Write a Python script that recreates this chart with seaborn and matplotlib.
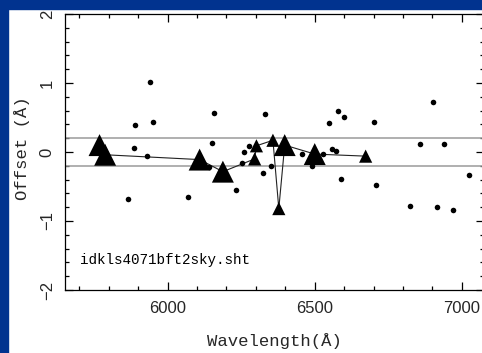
import matplotlib
matplotlib.use("Agg")
import matplotlib.pyplot as plt
from matplotlib.patches import Rectangle
from matplotlib.ticker import MultipleLocator
import seaborn as sns

# single lines (dots)
dot_x = [5865, 5887, 5891, 5929, 5941, 5950, 6071, 6141, 6150, 6157,
         6232, 6254, 6260, 6277, 6324, 6330, 6351, 6457, 6492, 6527,
         6547, 6557, 6572, 6578, 6588, 6598, 6701, 6709, 6822, 6856,
         6903, 6915, 6940, 6969, 7023]
dot_y = [-0.68, 0.06, 0.39, -0.06, 1.01, 0.43, -0.65, -0.22, 0.13, 0.56,
         -0.55, -0.16, 0.0, 0.09, -0.31, 0.55, -0.21, -0.03, -0.21, -0.03,
         0.42, 0.05, 0.02, 0.59, -0.39, 0.51, 0.44, -0.48, -0.78, 0.12,
         0.72, -0.79, 0.12, -0.84, -0.34]

# binned offsets (triangles), weight -> marker size
tri_x = [5769, 5788, 6109, 6188, 6296, 6302, 6358, 6378, 6398, 6500, 6673]
tri_y = [0.10, -0.04, -0.11, -0.285, -0.10, 0.09, 0.17, -0.82, 0.10, -0.03, -0.06]
tri_w = [2, 2, 2, 2, 1, 1, 1, 1, 2, 2, 1]

limite = 0.2
nome_arquivo = "idkls4071bft2sky.sht"

sns.set_style("ticks")
plt.rcParams["font.family"] = ["Liberation Sans", "DejaVu Sans"]

fig = plt.figure(figsize=(4.82, 3.53), dpi=100)
fig.patch.set_facecolor("white")
ax = fig.add_axes([64.5 / 482, 63 / 353, 419.5 / 482, 276 / 353])

# borda azul do slide
azul = "#01338f"
fig.patches.append(Rectangle((0, 0), 8 / 482, 1, transform=fig.transFigure, color=azul, zorder=0))
fig.patches.append(Rectangle((0, 1 - 9 / 353), 1, 9 / 353, transform=fig.transFigure, color=azul, zorder=0))

ax.axhline(limite, color="#9a9a9a", lw=1.1, zorder=1)
ax.axhline(-limite, color="#9a9a9a", lw=1.1, zorder=1)

sns.scatterplot(x=dot_x, y=dot_y, ax=ax, color="black", s=16, linewidth=0, zorder=3)
sns.lineplot(x=tri_x, y=tri_y, ax=ax, sort=False, estimator=None, color="#222222", lw=0.8, zorder=2)
sns.scatterplot(x=tri_x, y=tri_y, ax=ax, size=tri_w, sizes={1: 90, 2: 250}, marker="^",
                color="black", linewidth=0, legend=False, zorder=4)

ax.set_xlim(5650, 7075)
ax.set_ylim(-2, 2)
ax.xaxis.set_major_locator(MultipleLocator(500))
ax.xaxis.set_minor_locator(MultipleLocator(100))
ax.yaxis.set_major_locator(MultipleLocator(1))
ax.yaxis.set_minor_locator(MultipleLocator(0.2))
ax.tick_params(which="both", direction="in", top=True, right=True, width=0.9, color="black")
ax.tick_params(which="major", length=6)
ax.tick_params(which="minor", length=3)
ax.tick_params(axis="x", labelsize=12, pad=8)
ax.tick_params(axis="y", labelsize=12, pad=7, labelrotation=90)
for t in ax.get_yticklabels():
    t.set_va("center")
for s in ax.spines.values():
    s.set_linewidth(0.9)
    s.set_color("black")

mono = ["Liberation Mono", "DejaVu Sans Mono"]
ax.set_xlabel("Wavelength(Å)", fontsize=12.4, family=mono)
ax.set_ylabel("Offset (Å)", fontsize=12.4, family=mono)
ax.xaxis.label.set_va("center")
ax.yaxis.label.set_va("center")
ax.xaxis.set_label_coords(0.5, -0.185)
ax.yaxis.set_label_coords(-0.101, 0.514)

ax.text(5701, -1.56, nome_arquivo, fontsize=10.3, family=mono, ha="left", va="center", color="black")

fig.savefig("out.png", dpi=100, facecolor=fig.get_facecolor())
